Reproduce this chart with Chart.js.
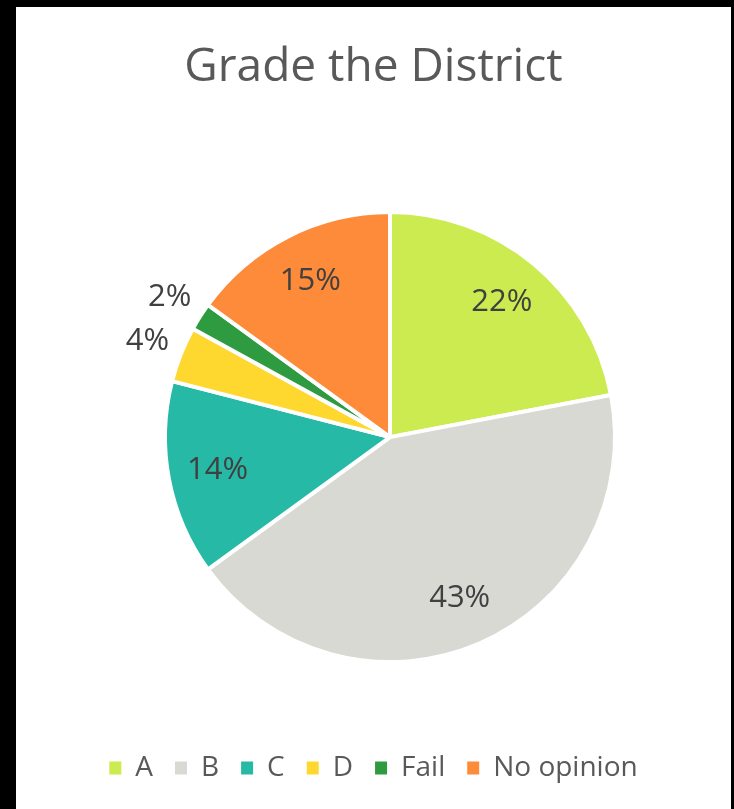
<!DOCTYPE html>
<html>
<head>
<meta charset="utf-8">
<script src="https://cdn.jsdelivr.net/npm/chart.js@4.4.1/dist/chart.umd.min.js"></script>
<style>
  html, body { margin: 0; padding: 0; background: #000; }
  #frame {
    position: absolute; left: 16px; top: 7px;
    width: 715px; height: 802px;
    background: #fff;
  }
  #grade-chart { display: block; }
</style>
</head>
<body>
<div id="frame"><canvas id="grade-chart" width="715" height="802"></canvas></div>
<script>
// Survey results, percent of responses
const GRADES = ['A', 'B', 'C', 'D', 'Fail', 'No opinion'];
const SHARES = [22, 43, 14, 4, 2, 15];
const COLORS = ['#cbeb51', '#d9d9d4', '#26b9a6', '#fed82f', '#2e9b40', '#fd8b3a'];

const FONT = '"Open Sans", "Liberation Sans", sans-serif';

// Percent labels: inside big slices, just outside the tiny ones
const sliceLabels = {
  id: 'sliceLabels',
  afterDatasetsDraw(chart) {
    const ctx = chart.ctx;
    const meta = chart.getDatasetMeta(0);
    ctx.save();
    ctx.font = '31px ' + FONT;
    ctx.fillStyle = '#404040';
    ctx.textAlign = 'center';
    ctx.textBaseline = 'middle';
    meta.data.forEach((arc, i) => {
      const p = arc.getProps(['x', 'y', 'startAngle', 'endAngle', 'outerRadius'], true);
      const mid = (p.startAngle + p.endAngle) / 2;
      const r = SHARES[i] < 5 ? p.outerRadius + 36 : p.outerRadius * 0.78;
      ctx.fillText(SHARES[i] + '%', p.x + Math.cos(mid) * r, p.y + Math.sin(mid) * r);
    });
    ctx.restore();
  }
};

// The pie sits a bit right of the page centre in the original
const nudgePie = {
  id: 'nudgePie',
  afterLayout(chart) {
    chart.chartArea.left += 33;
    chart.chartArea.width = chart.chartArea.right - chart.chartArea.left;
  }
};

new Chart(document.getElementById('grade-chart'), {
  type: 'pie',
  data: {
    labels: GRADES,
    datasets: [{
      data: SHARES,
      backgroundColor: COLORS,
      borderColor: '#ffffff',
      borderWidth: 4
    }]
  },
  plugins: [nudgePie, sliceLabels],
  options: {
    responsive: false,
    animation: false,
    radius: 225,
    layout: { padding: { bottom: 17 } },
    plugins: {
      title: {
        display: true,
        text: 'Grade the District',
        color: '#595959',
        font: { family: FONT, size: 46, weight: 'normal' },
        padding: { top: 33, bottom: 47 }
      },
      legend: {
        position: 'bottom',
        labels: {
          color: '#595959',
          font: { family: FONT, size: 28 },
          boxWidth: 12,
          boxHeight: 13,
          padding: 22,
          // legend swatches without the white slice border
          generateLabels(chart) {
            return Chart.overrides.pie.plugins.legend.labels.generateLabels(chart)
              .map(item => Object.assign(item, { lineWidth: 0 }));
          }
        }
      },
      tooltip: { enabled: false }
    }
  }
});
</script>
</body>
</html>
